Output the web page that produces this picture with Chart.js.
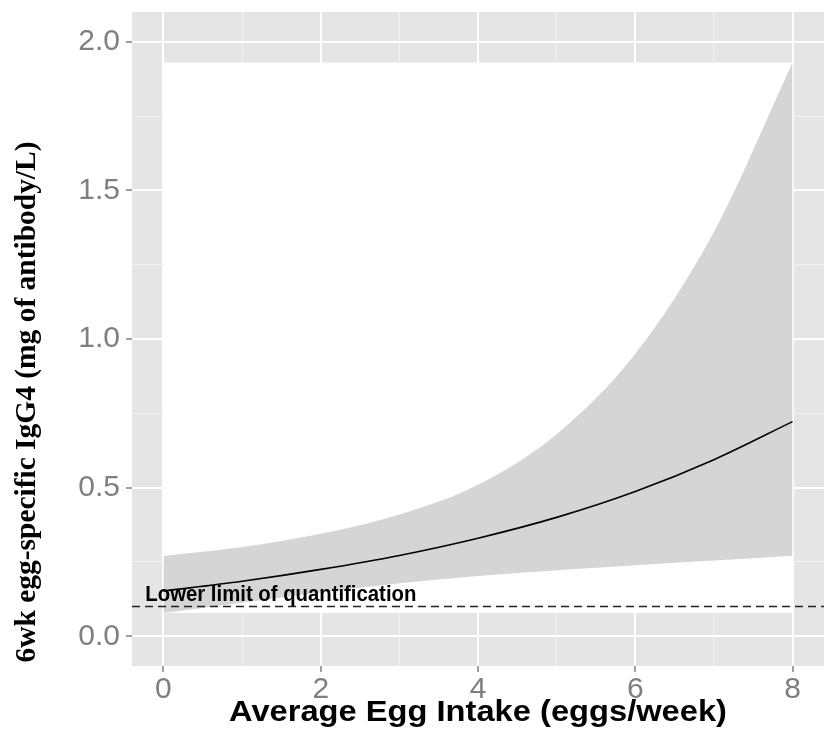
<!DOCTYPE html>
<html>
<head>
<meta charset="utf-8">
<script src="https://cdn.jsdelivr.net/npm/chart.js@4/dist/chart.umd.min.js"></script>
<style>
html,body{margin:0;padding:0;background:#fff}
canvas{display:block}
</style>
</head>
<body>
<canvas id="ch-igg4" width="825" height="740"></canvas>
<script>
// ===================== DATOS =====================
const eggIntake=[0,1,2,3,4,5,6,7,8];
const igg4Fit  =[0.152,0.185,0.225,0.272,0.330,0.400,0.487,0.594,0.722];
const igg4Upper=[0.270,0.300,0.345,0.410,0.510,0.680,0.950,1.360,1.930];
const igg4Lower=[0.078,0.113,0.147,0.178,0.203,0.222,0.239,0.255,0.271];

const xTicks=[0,1,2,3,4,5,6,7,8];           // mayores cada 2, menores entre medio
const yTicks=[0,0.25,0.5,0.75,1,1.25,1.5,1.75,2];
const xRange=[-0.4,8.4];
const yRange=[-0.1,2.1];

const llq=0.1;                               // límite inferior de cuantificación
const llqLabel='Lower limit of quantification';
const xTitle='Average Egg Intake (eggs/week)';
const yTitle='6wk egg-specific IgG4 (mg of antibody/L)';

// ===================== HELPERS =====================
const pts=(xs,ys)=>xs.map((x,i)=>({x,y:ys[i]}));
const none='rgba(0,0,0,0)';
const rectTop=Math.max(...igg4Upper), rectBot=Math.min(...igg4Lower);
const x0=eggIntake[0], x1=eggIntake[eggIntake.length-1];

// texto estirado a un ancho dado (la figura original está algo deformada)
function textoAjustado(ctx,txt,font,w,x,y,rot){
  ctx.save();
  ctx.font=font;
  const nat=ctx.measureText(txt).width;
  ctx.translate(x,y);
  if(rot) ctx.rotate(rot);
  ctx.scale(w/nat,1);
  ctx.fillText(txt,0,0);
  ctx.restore();
}

const panelBg={
  id:'panelBg',
  beforeDraw(ch){
    const {ctx,chartArea:a}=ch;
    ctx.save();
    ctx.fillStyle='#fff';ctx.fillRect(0,0,ch.width,ch.height);
    ctx.fillStyle='#e5e5e5';ctx.fillRect(a.left,a.top,a.right-a.left,a.bottom-a.top);
    ctx.restore();
  }
};

const textos={
  id:'textos',
  afterDatasetsDraw(ch){
    const {ctx,scales:{x,y}}=ch;
    ctx.save();
    ctx.fillStyle='#000';ctx.textAlign='left';ctx.textBaseline='alphabetic';
    textoAjustado(ctx,llqLabel,'bold 22px "Liberation Sans", Arial, sans-serif',271,x.getPixelForValue(-0.23),y.getPixelForValue(0.12));
    ctx.restore();
  },
  afterDraw(ch){
    const {ctx,chartArea:a}=ch;
    ctx.save();
    ctx.fillStyle='#000';ctx.textAlign='center';ctx.textBaseline='alphabetic';
    textoAjustado(ctx,xTitle,'bold 29px "Liberation Sans", Arial, sans-serif',498,(a.left+a.right)/2,721);
    textoAjustado(ctx,yTitle,'bold 30px "Liberation Serif", "Times New Roman", serif',521,35,402,-Math.PI/2);
    ctx.restore();
  }
};

const esMayorX=v=>Math.abs(v%2)<1e-9;
const esMayorY=v=>Math.abs((v*2)-Math.round(v*2))<1e-9;
const gridOpts=esMayor=>({
  color:c=>c.tick&&esMayor(c.tick.value)?'#ffffff':'#f2f2f2',
  lineWidth:c=>c.tick&&esMayor(c.tick.value)?2:1,
  tickColor:c=>c.tick&&esMayor(c.tick.value)?'#7f7f7f':none,
  tickWidth:1.5,tickLength:6,drawTicks:true
});
const tickFont={family:'"Liberation Sans", Arial, sans-serif',size:30};
// sin relleno automático de las etiquetas extremas
const sinPad=s=>{s.paddingTop=0;s.paddingBottom=0;s.paddingLeft=0;s.paddingRight=0;};
const curva={cubicInterpolationMode:'monotone',pointRadius:0};

new Chart(document.getElementById('ch-igg4'),{
  type:'line',
  data:{datasets:[
    {label:'fit',data:pts(eggIntake,igg4Fit),borderColor:'#000',borderWidth:1.6,fill:false,order:1,...curva},
    {label:'llq',data:[{x:xRange[0],y:llq},{x:xRange[1],y:llq}],borderColor:'#222',borderWidth:1.5,borderDash:[8,5],pointRadius:0,fill:false,order:2},
    {label:'upper',data:pts(eggIntake,igg4Upper),borderColor:none,borderWidth:0,backgroundColor:'#d5d5d5',fill:'+1',order:3,...curva},
    {label:'lower',data:pts(eggIntake,igg4Lower),borderColor:none,borderWidth:0,fill:false,order:4,...curva},
    {label:'rectTop',data:[{x:x0,y:rectTop},{x:x1,y:rectTop}],borderColor:none,borderWidth:0,pointRadius:0,backgroundColor:'#fff',fill:'+1',order:5},
    {label:'rectBot',data:[{x:x0,y:rectBot},{x:x1,y:rectBot}],borderColor:none,borderWidth:0,pointRadius:0,fill:false,order:6}
  ]},
  options:{
    responsive:false,animation:false,
    layout:{padding:{top:12,right:1,left:0,bottom:0}},
    plugins:{legend:{display:false},tooltip:{enabled:false}},
    scales:{
      x:{type:'linear',min:xRange[0],max:xRange[1],
        afterBuildTicks:s=>{s.ticks=xTicks.map(v=>({value:v}));},
        afterFit:s=>{s.height=74;sinPad(s);},
        ticks:{callback:v=>esMayorX(v)?String(v):'',color:'#7f7f7f',font:tickFont,padding:0,maxRotation:0,autoSkip:false},
        grid:gridOpts(esMayorX),border:{display:false}},
      y:{type:'linear',min:yRange[0],max:yRange[1],
        afterBuildTicks:s=>{s.ticks=yTicks.map(v=>({value:v}));},
        afterFit:s=>{s.width=132;sinPad(s);},
        ticks:{callback:v=>esMayorY(v)?v.toFixed(1):'',color:'#7f7f7f',font:tickFont,padding:6,autoSkip:false},
        grid:gridOpts(esMayorY),border:{display:false}}
    }
  },
  plugins:[panelBg,textos]
});
</script>
</body>
</html>
